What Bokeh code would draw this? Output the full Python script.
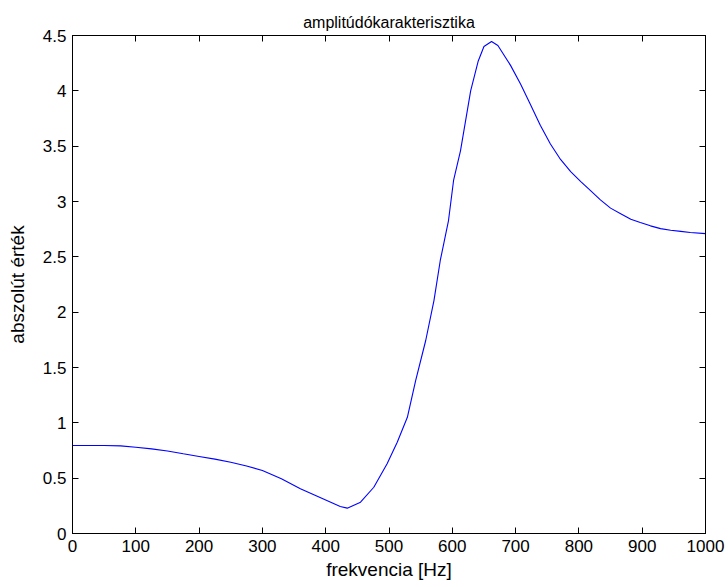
from bokeh.plotting import figure
from bokeh.models import Range1d, LinearAxis, FixedTicker
from bokeh.embed import file_html
from bokeh.resources import INLINE

freq_hz = [0, 50, 76, 100, 125, 150, 175, 200, 225, 250, 275, 300, 330, 360, 392,
           423, 434, 455, 476, 497, 513, 529, 542, 558, 571, 581, 594, 602, 613,
           629, 641, 650, 662, 672, 692, 708, 724, 739, 755, 771, 787, 803, 818,
           834, 850, 866, 882, 897, 913, 929, 945, 961, 976, 1000]
abs_value = [0.795, 0.795, 0.792, 0.78, 0.765, 0.745, 0.72, 0.696, 0.672, 0.644,
             0.61, 0.569, 0.494, 0.404, 0.323, 0.244, 0.229, 0.283, 0.418, 0.63,
             0.825, 1.05, 1.38, 1.744, 2.105, 2.467, 2.828, 3.19, 3.46, 4.0, 4.27,
             4.40, 4.446, 4.41, 4.23, 4.06, 3.87, 3.69, 3.52, 3.38, 3.27, 3.18,
             3.10, 3.015, 2.94, 2.89, 2.84, 2.81, 2.78, 2.755, 2.74, 2.73, 2.72, 2.71]

x_ticks = [0, 100, 200, 300, 400, 500, 600, 700, 800, 900, 1000]
y_ticks = [0, 0.5, 1, 1.5, 2, 2.5, 3, 3.5, 4, 4.5]
y_tick_labels = ["0", "0.5", "1", "1.5", "2", "2.5", "3", "3.5", "4", "4.5"]

FONT = "Liberation Sans"
TICK_SIZE = "17px"
LABEL_SIZE = "19px"

p = figure(frame_width=633, frame_height=498, output_backend="svg", toolbar_location=None,
           x_range=Range1d(0, 1000), y_range=Range1d(0, 4.5),
           min_border_left=72, min_border_right=20, min_border_top=35, min_border_bottom=50,
           background_fill_color="white", border_fill_color="white")

p.title.text = "amplitúdókarakterisztika"
p.title.align = "center"
p.title.text_font = FONT
p.title.text_font_size = "16px"
p.title.text_font_style = "normal"
p.title.text_color = "black"
p.title.standoff = 9

p.xgrid.visible = False
p.ygrid.visible = False
p.outline_line_color = "black"
p.outline_line_width = 1

def style_axis(ax, ticks, labels):
    ax.ticker = FixedTicker(ticks=ticks)
    ax.major_tick_in = 6
    ax.major_tick_out = 0
    ax.minor_tick_in = 0
    ax.minor_tick_out = 0
    ax.axis_line_color = "black"
    ax.major_tick_line_color = "black"
    ax.major_label_text_font = FONT
    ax.major_label_text_color = "black"
    ax.major_label_text_font_size = TICK_SIZE
    ax.major_label_overrides = {t: s for t, s in zip(ticks, labels)}

xa = p.xaxis[0]
style_axis(xa, x_ticks, [str(t) for t in x_ticks])
xa.major_label_standoff = 6
xa.axis_label = "frekvencia [Hz]"
xa.axis_label_text_font = FONT
xa.axis_label_text_font_size = LABEL_SIZE
xa.axis_label_text_font_style = "normal"
xa.axis_label_text_color = "black"
xa.axis_label_standoff = 4

ya = p.yaxis[0]
style_axis(ya, y_ticks, y_tick_labels)
ya.major_label_standoff = 6
ya.axis_label = "abszolút érték"
ya.axis_label_text_font = FONT
ya.axis_label_text_font_size = LABEL_SIZE
ya.axis_label_text_font_style = "normal"
ya.axis_label_text_color = "black"
ya.axis_label_standoff = 12

top = LinearAxis()
style_axis(top, x_ticks, ["" for _ in x_ticks])
top.major_label_standoff = 0
p.add_layout(top, "above")
right = LinearAxis()
style_axis(right, y_ticks, ["" for _ in y_ticks])
right.major_label_standoff = 0
p.add_layout(right, "right")

p.line(freq_hz, abs_value, line_color="#0000ff", line_width=1.1)

open("out.html", "w").write(file_html(p, INLINE))
